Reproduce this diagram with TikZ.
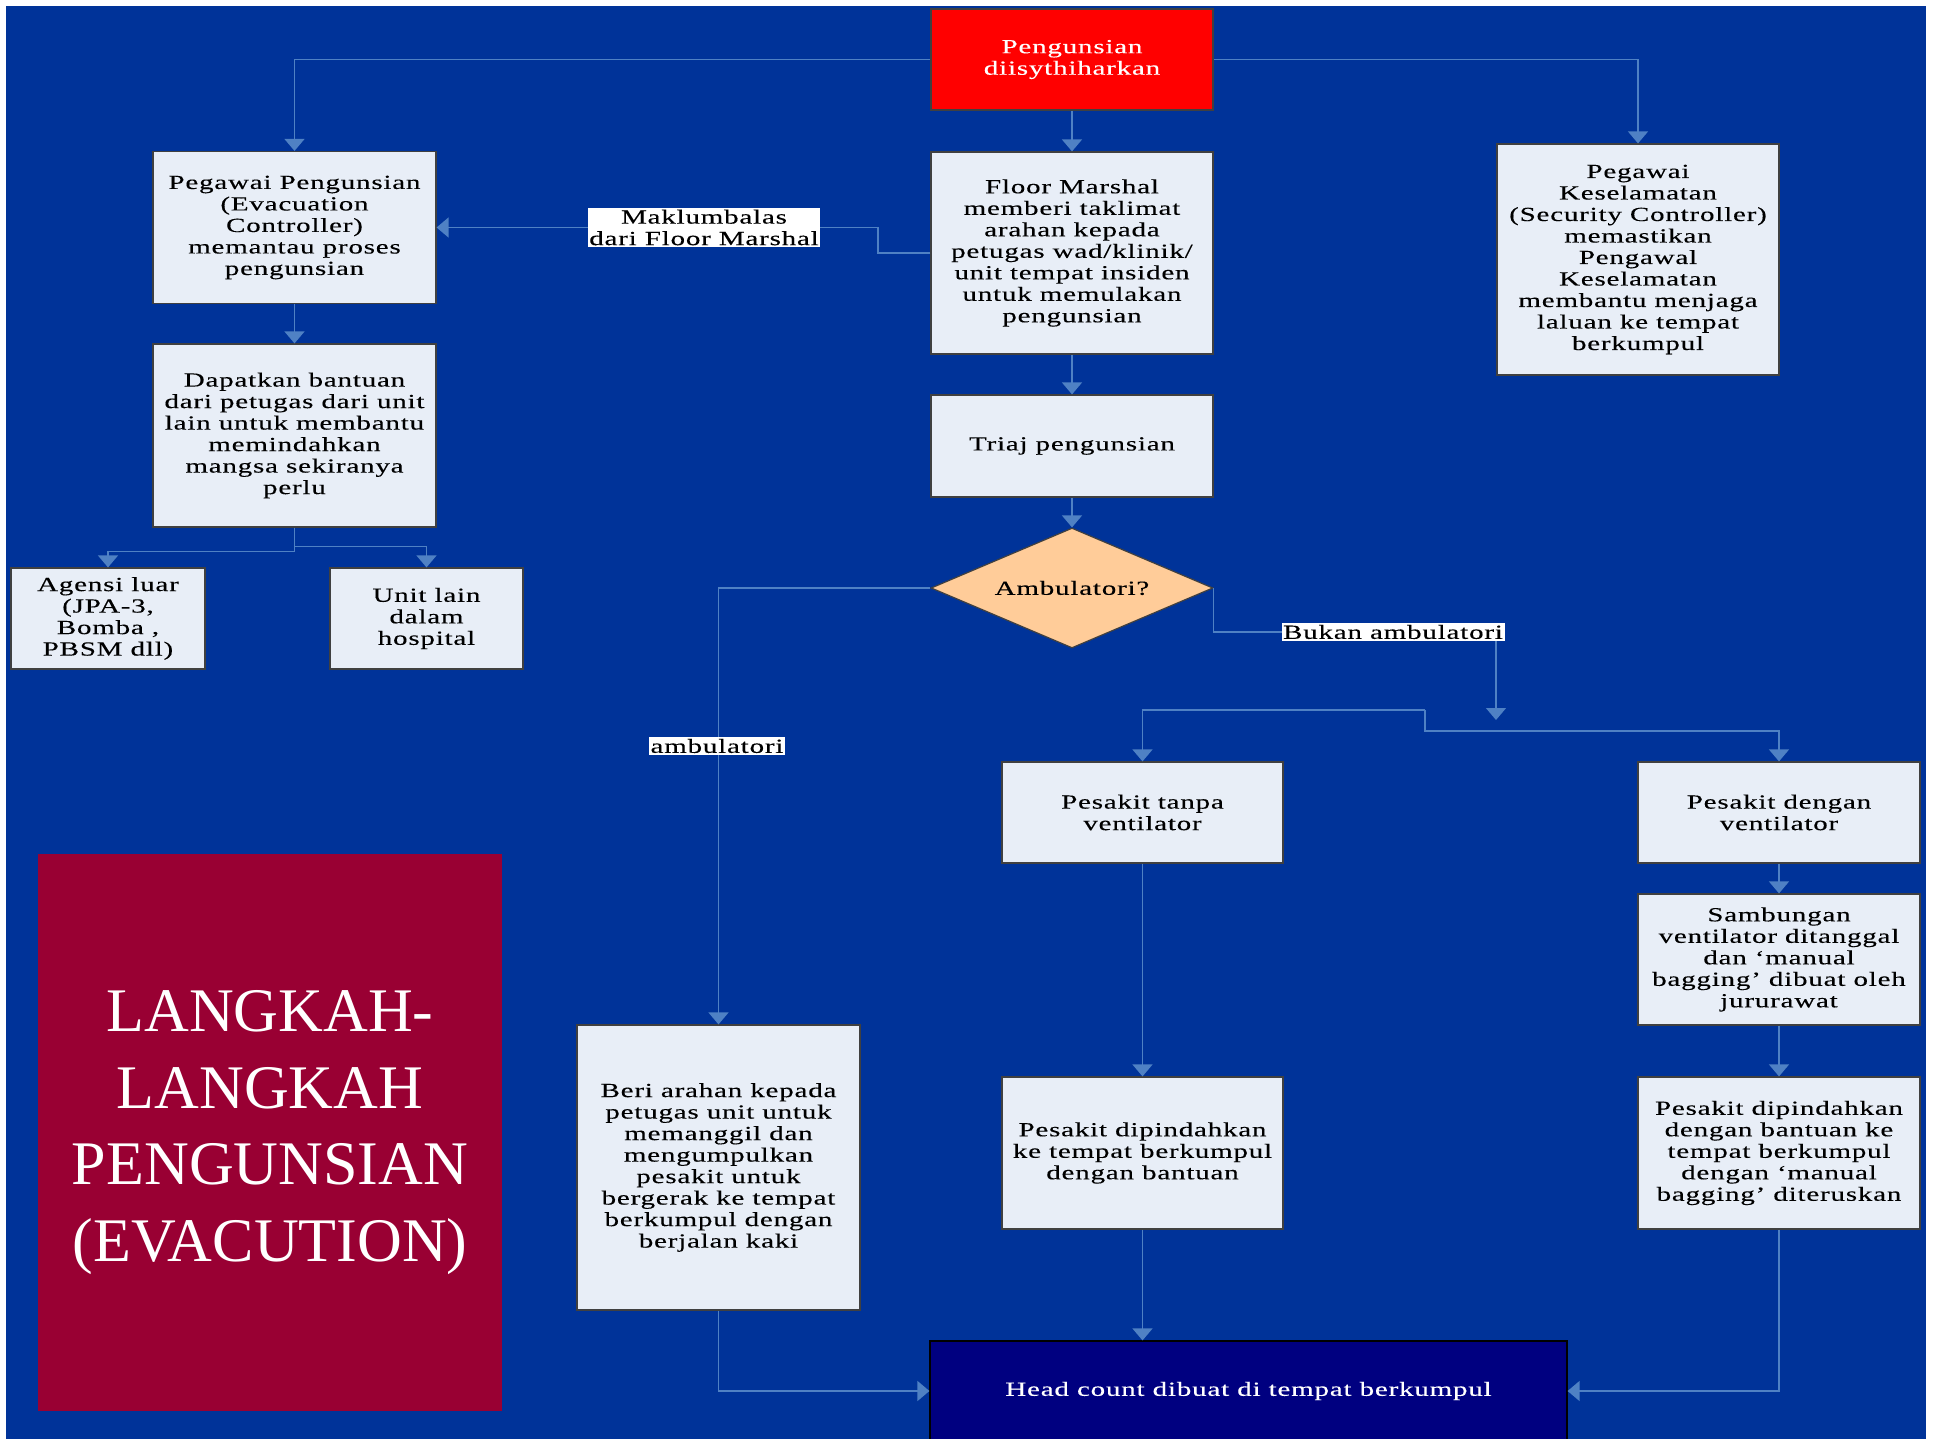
\documentclass[tikz,border=0pt]{standalone}
\usepackage{fontspec}
\setmainfont{Liberation Serif}
\newfontfamily\boxfont{Liberation Serif}[FakeStretch=1.45,LetterSpace=4,FakeBold=0.25]
\usetikzlibrary{shapes.geometric,arrows.meta}
\definecolor{bgblue}{RGB}{0,51,153}
\definecolor{boxfill}{RGB}{232,238,247}
\definecolor{linkblue}{RGB}{79,129,196}
\definecolor{startred}{RGB}{255,0,0}
\definecolor{diafill}{RGB}{255,204,153}
\definecolor{titlered}{RGB}{153,0,51}
\definecolor{hcnavy}{RGB}{0,0,128}

\begin{document}
\begin{tikzpicture}[x=0.5pt, y=-0.5pt, >={Triangle[width=10pt,length=6pt]},
  box/.style={draw=black!75, fill=boxfill, line width=0.6pt, inner sep=0pt, minimum width=141pt, align=center, font=\boxfont\fontsize{10}{10.75}\selectfont},
  conn/.style={->, draw=linkblue, line width=0.7pt},
  lbl/.style={fill=white, inner sep=0.8pt, align=center, font=\boxfont\fontsize{10}{10.75}\selectfont}]
\useasboundingbox (0,0) rectangle (1935,1439);
\fill[bgblue] (6,6) rectangle (1926,1439);
% top row
\node (start) at (1072,59.5) [box, fill=startred, text=white, minimum height=50.5pt] {Pengunsian\\diisythiharkan};
\node (pegawai) at (294.5,227.5) [box, minimum width=141.5pt, minimum height=76pt] {Pegawai Pengunsian\\(Evacuation\\Controller)\\memantau proses\\pengunsian};
\node (fm) at (1072,253) [box, minimum height=101pt] {Floor Marshal\\memberi taklimat\\arahan kepada\\petugas wad/klinik/\\unit tempat insiden\\untuk memulakan\\pengunsian};
\node (security) at (1638,259.5) [box, minimum height=115.5pt] {Pegawai\\Keselamatan\\(Security Controller)\\memastikan\\Pengawal\\Keselamatan\\membantu menjaga\\laluan ke tempat\\berkumpul};
\node (bantuan) at (294.5,435.5) [box, minimum width=141.5pt, minimum height=91.5pt] {Dapatkan bantuan\\dari petugas dari unit\\lain untuk membantu\\memindahkan\\mangsa sekiranya\\perlu};
\node (triaj) at (1072,446) [box, minimum height=51pt] {Triaj pengunsian};
\node (ambul) at (1072,588) [box, diamond, aspect=2.35, fill=diafill, minimum width=141pt, minimum height=60pt] {Ambulatori?};
\node (agensi) at (108,618.5) [box, minimum width=97pt, minimum height=50.5pt] {Agensi luar\\(JPA-3,\\Bomba ,\\PBSM dll)};
\node (unitlain) at (426.5,618.5) [box, minimum width=96.5pt, minimum height=50.5pt] {Unit lain\\dalam\\hospital};
% patients
\node (tanpa) at (1142.5,812.5) [box, minimum width=140.5pt, minimum height=50.5pt] {Pesakit tanpa\\ventilator};
\node (dengan) at (1779,812.5) [box, minimum height=50.5pt] {Pesakit dengan\\ventilator};
\node (sambung) at (1779,959.5) [box, minimum height=65.5pt] {Sambungan\\ventilator ditanggal\\dan ‘manual\\bagging’ dibuat oleh\\jururawat};
\node (beri) at (718.5,1167.5) [box, minimum width=141.5pt, minimum height=142.5pt] {Beri arahan kepada\\petugas unit untuk\\memanggil dan\\mengumpulkan\\pesakit untuk\\bergerak ke tempat\\berkumpul dengan\\berjalan kaki};
\node (pindahA) at (1142.5,1153) [box, minimum width=140.5pt, minimum height=76pt] {Pesakit dipindahkan\\ke tempat berkumpul\\dengan bantuan};
\node (pindahB) at (1779,1153) [box, minimum height=76pt] {Pesakit dipindahkan\\dengan bantuan ke\\tempat berkumpul\\dengan ‘manual\\bagging’ diteruskan};
\node (headcount) at (1248.5,1391) [box, fill=hcnavy, draw=black, text=white, minimum width=318.5pt, minimum height=50pt] {Head count dibuat di tempat berkumpul};
\node (title) at (270,1132.5) [fill=titlered, text=white, minimum width=232pt, minimum height=278.5pt, inner sep=0pt, align=center, font=\fontsize{31}{38.4}\selectfont] {LANGKAH-\\LANGKAH\\PENGUNSIAN\\(EVACUTION)};
\coordinate (fmbend) at (878,253);
\coordinate (split) at (1425,710);
\coordinate (bukanend) at (1496,720);
% connectors
\draw[conn] (start.west) -| (pegawai.north);
\draw[conn] (start.east) -| (security.north);
\draw[conn] (start) -- (fm);
\draw[conn] (fm.west) -- (fmbend) |- (pegawai.east);
\draw[conn] (pegawai) -- (bantuan);
\draw[conn] (bantuan.south) -- ++(0,24) -| (agensi.north);
\draw[conn] (bantuan.south) -- ++(0,19) -| (unitlain.north);
\draw[conn] (fm) -- (triaj);
\draw[conn] (triaj) -- (ambul);
\draw[conn] (ambul.west) -| (beri.north);
\draw[conn] (ambul.east) -- ++(0,44) -| (bukanend);
\draw[conn] (split) -| (tanpa.north);
\draw[conn] (split) -- ++(0,21) -| (dengan.north);
\draw[conn] (tanpa) -- (pindahA);
\draw[conn] (pindahA.south) -- (pindahA.south |- headcount.north);
\draw[conn] (dengan) -- (sambung);
\draw[conn] (sambung) -- (pindahB);
\draw[conn] (pindahB.south) |- (headcount.east);
\draw[conn] (beri.south) |- (headcount.west);
% labels
\node (lblmakl) at (704,227.5) [lbl] {Maklumbalas\\dari Floor Marshal};
\node (lblamb) at (717,746) [lbl] {ambulatori};
\node (lblbukan) at (1393,632) [lbl] {Bukan ambulatori};
\end{tikzpicture}
\end{document}
